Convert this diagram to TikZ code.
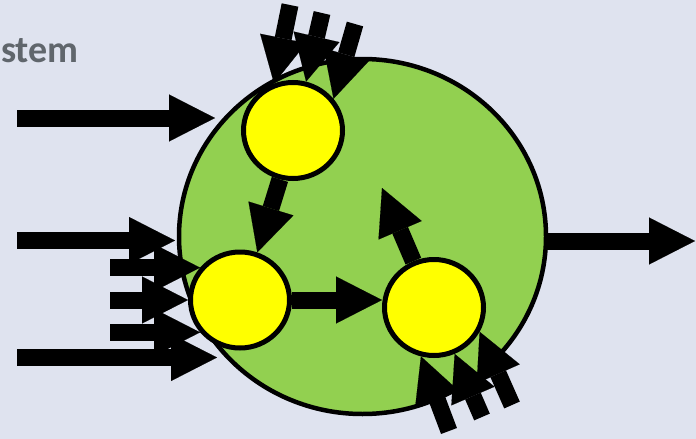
\documentclass[tikz,border=0pt]{standalone}
\usepackage{fontspec}
\newfontfamily\titlefont{Carlito}
\usetikzlibrary{arrows.meta,shapes.geometric}
\definecolor{bg}{HTML}{DFE3EF}
\definecolor{sysgreen}{HTML}{92D050}
\definecolor{fnyellow}{HTML}{FFFF00}
\definecolor{txtgrey}{HTML}{60666C}
\begin{document}
\begin{tikzpicture}[x=1pt,y=-1pt,
  blk/.style={line width=17pt,-{Triangle[length=46pt,width=47pt,line width=0.1pt]}},
  sysbox/.style={ellipse,draw=black,line width=4.5pt,fill=sysgreen,minimum width=367pt,minimum height=355pt,inner sep=0pt},
  fn/.style={ellipse,draw=black,line width=5pt,fill=fnyellow,minimum width=99pt,minimum height=96pt,inner sep=0pt}]
\fill[bg] (0,0) rectangle (696,439);
\useasboundingbox (0,0) rectangle (696,439);
\node[anchor=base west,text=txtgrey,inner sep=0pt,font=\titlefont\bfseries\fontsize{38}{46}\selectfont] (title) at (1,62) {stem};
\node[sysbox] (sys) at (362.5,236.5) {};
\node[fn] (Y1) at (293,130.5) {};
\node[fn] (Y2) at (240,300) {};
\node[fn] (Y3) at (434,307.5) {};
% external tails and tips
\coordinate (l1) at (17,118);   \coordinate (l1t) at (215,118);
\coordinate (l2) at (17,240.5); \coordinate (l2t) at (175,240.5);
\coordinate (l3) at (17,357.5); \coordinate (l3t) at (217,357.5);
\coordinate (sx) at (110,0);
\coordinate (t1) at (290,5);
\coordinate (t2) at (322,13);
\coordinate (t3) at (355,24);
\coordinate (b1) at (449,431);
\coordinate (b2) at (482,417);
\coordinate (b3) at (512,405);
\coordinate (up) at (382,188);
\coordinate (out) at (695,241);
% left inputs
\draw[blk] (l1) -- (l1t);
\draw[blk] (l2) -- (l2t);
\draw[blk] (l3) -- (l3t);
\draw[blk] (sx |- Y2.141) -- (Y2.141);
\draw[blk] (sx |- Y2.180) -- (Y2.180);
\draw[blk] (sx |- Y2.-141) -- (Y2.-141);
% top inputs
\draw[blk] (t1) -- (Y1.112);
\draw[blk] (t2) -- (Y1.75);
\draw[blk] (t3) -- (Y1.38);
% bottom inputs
\draw[blk] (b1) -- (Y3.-105);
\draw[blk] (b2) -- (Y3.-66);
\draw[blk] (b3) -- (Y3.-28);
% internal
\draw[blk] (Y1.-105) -- (Y2.70);
\draw[blk] (Y2.east) -- (Y2.east -| Y3.west);
\draw[blk] (Y3.114) -- (up);
% output
\draw[blk] (sys.east |- out) -- (out);
\end{tikzpicture}
\end{document}
